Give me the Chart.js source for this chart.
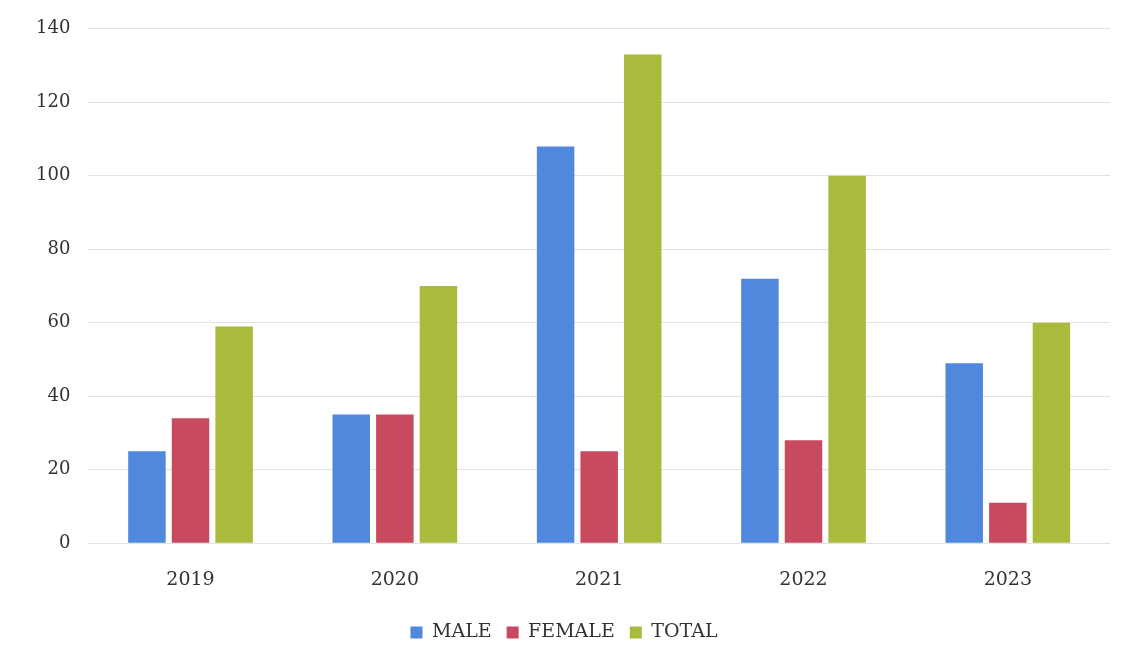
<!DOCTYPE html>
<html>
<head>
<meta charset="utf-8">
<script src="https://cdn.jsdelivr.net/npm/chart.js@4"></script>
<style>
html,body{margin:0;padding:0;background:#fff;}
#wrap{width:1128px;height:667px;position:relative;}
</style>
</head>
<body>
<div id="wrap"><canvas id="c"></canvas></div>
<script>
const categories = ["2019", "2020", "2021", "2022", "2023"];
const maleValues = [25, 35, 108, 72, 49];
const femaleValues = [34, 35, 25, 28, 11];
const totalValues = [59, 70, 133, 100, 60];
const seriesNames = ["MALE", "FEMALE", "TOTAL"];

const fontFamily = "'DejaVu Serif', 'Liberation Serif', serif";

new Chart(document.getElementById('c'), {
  type: 'bar',
  data: {
    labels: categories,
    datasets: [
      { label: seriesNames[0], data: maleValues, backgroundColor: '#4f88dc' },
      { label: seriesNames[1], data: femaleValues, backgroundColor: '#c84a5e' },
      { label: seriesNames[2], data: totalValues, backgroundColor: '#a9ba3c' }
    ]
  },
  options: {
    responsive: true,
    maintainAspectRatio: false,
    animation: false,
    layout: { padding: { top: 20, right: 18, left: 18, bottom: 15 } },
    datasets: { bar: { categoryPercentage: 0.64, barPercentage: 0.86 } },
    plugins: {
      legend: {
        position: 'bottom',
        labels: {
          boxWidth: 12, boxHeight: 12, padding: 15,
          color: '#333',
          font: { family: fontFamily, size: 19 }
        }
      },
      tooltip: { enabled: false }
    },
    scales: {
      x: {
        grid: { display: false },
        border: { display: false },
        ticks: { color: '#333', font: { family: fontFamily, size: 19 }, padding: 17 }
      },
      y: {
        min: 0, max: 140,
        ticks: { stepSize: 20, color: '#333', font: { family: fontFamily, size: 18 }, padding: 18 },
        grid: { color: '#e2e2e2', drawTicks: false },
        border: { display: false }
      }
    }
  }
});
</script>
</body>
</html>
